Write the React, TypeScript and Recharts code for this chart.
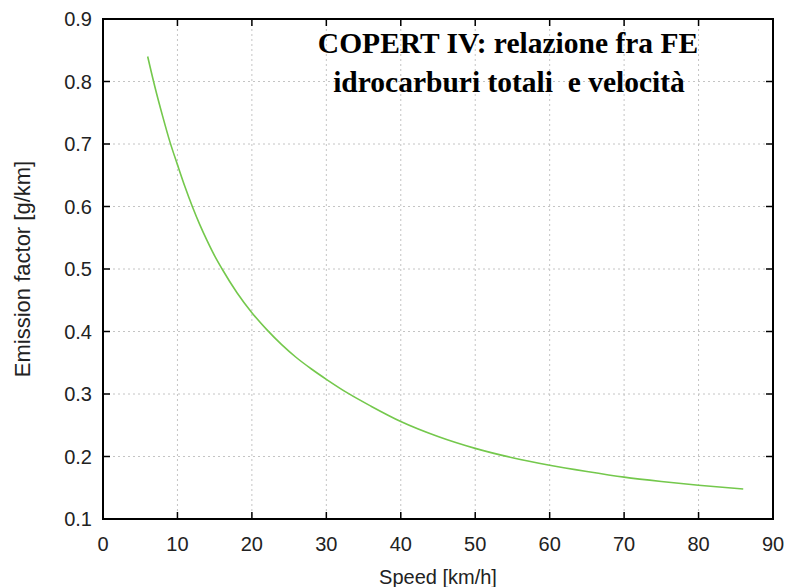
import React from 'react';
import { LineChart, Line, XAxis, YAxis, CartesianGrid, Label, ReferenceArea } from 'recharts';

const speeds = [6, 7, 8, 9, 10, 11, 12, 13, 14, 15, 16, 18, 20, 22, 24, 26, 28, 30, 33, 36, 40, 45, 50, 55, 60, 65, 70, 75, 80, 86];
const emissions = [0.84, 0.79, 0.745, 0.703, 0.667, 0.632, 0.6, 0.571, 0.545, 0.521, 0.5, 0.462, 0.43, 0.403, 0.379, 0.358, 0.34, 0.3235, 0.3005, 0.2805, 0.256, 0.232, 0.213, 0.198, 0.186, 0.176, 0.167, 0.16, 0.154, 0.148];
const xTicks = [0, 10, 20, 30, 40, 50, 60, 70, 80, 90];
const yTicks = [0.1, 0.2, 0.3, 0.4, 0.5, 0.6, 0.7, 0.8, 0.9];
const titleLines = ['COPERT IV: relazione fra FE', 'idrocarburi totali  e velocità'];

const data = speeds.map((s, i) => ({ speed: s, fe: emissions[i] }));

const sans = '"Liberation Sans", Arial, sans-serif';
const serif = '"Liberation Serif", "Times New Roman", serif';

// plot box edges (from chart size and margins)
const W = 790;
const H = 587;
const M = { top: 19, right: 17, bottom: 0, left: 0 };
const Y_AXIS_W = 103;
const X_AXIS_H = 68;
const LEFT = M.left + Y_AXIS_W;
const RIGHT = W - M.right;
const TOP = M.top;
const BOTTOM = H - M.bottom - X_AXIS_H;
const TICK = 7;
const X_MARGIN = 18;
const Y_MARGIN = 11;

const XTick = (props: any) => {
  const { x, payload } = props;
  return (
    <g>
      <line x1={x} y1={BOTTOM} x2={x} y2={BOTTOM - TICK} stroke="#000" strokeWidth={1.5} />
      <line x1={x} y1={TOP} x2={x} y2={TOP + TICK} stroke="#000" strokeWidth={1.5} />
      <text x={x} y={BOTTOM + X_MARGIN} dy="0.71em" textAnchor="middle" fill="#222" fontSize={20} fontFamily={sans}>
        {payload.value}
      </text>
    </g>
  );
};

const YTick = (props: any) => {
  const { y, payload } = props;
  return (
    <g>
      <line x1={LEFT} y1={y} x2={LEFT + TICK} y2={y} stroke="#000" strokeWidth={1.5} />
      <line x1={RIGHT} y1={y} x2={RIGHT - TICK} y2={y} stroke="#000" strokeWidth={1.5} />
      <text x={LEFT - Y_MARGIN} y={y} dy="0.355em" textAnchor="end" fill="#222" fontSize={20} fontFamily={sans}>
        {payload.value}
      </text>
    </g>
  );
};

export default function App() {
  return (
    <div style={{ position: 'absolute', left: 0, top: 0, width: W, height: H, background: '#fff' }}>
      <LineChart width={W} height={H} data={data} margin={M}>
        <CartesianGrid stroke="#c4c4c4" strokeDasharray="2 3" />
        <XAxis
          dataKey="speed"
          type="number"
          domain={[0, 90]}
          ticks={xTicks}
          height={X_AXIS_H}
          axisLine={false}
          tickLine={false}
          tick={<XTick />}
          interval={0}
        >
          <Label value="Speed [km/h]" position="insideBottom" offset={3} style={{ fill: '#222', fontSize: 20, fontFamily: sans }} />
        </XAxis>
        <YAxis
          type="number"
          domain={[0.1, 0.9]}
          ticks={yTicks}
          width={Y_AXIS_W}
          axisLine={false}
          tickLine={false}
          tick={<YTick />}
          interval={0}
        >
          <Label value="Emission factor [g/km]" angle={-90} position="center" dx={-29} style={{ fill: '#222', fontSize: 22, fontFamily: sans, textAnchor: 'middle' }} />
        </YAxis>
        <ReferenceArea x1={0} x2={90} y1={0.1} y2={0.9} fill="none" stroke="#000" strokeWidth={2} ifOverflow="visible" />
        <Line
          type="monotone"
          dataKey="fe"
          stroke="#74c84c"
          strokeWidth={1.6}
          dot={false}
          isAnimationActive={false}
        />
        <text x={508} y={53} textAnchor="middle" style={{ fontFamily: serif, fontWeight: 'bold', fontSize: 29.5, fill: '#000', whiteSpace: 'pre' }}>
          {titleLines[0]}
        </text>
        <text x={509} y={92} textAnchor="middle" style={{ fontFamily: serif, fontWeight: 'bold', fontSize: 29.5, fill: '#000', whiteSpace: 'pre' }}>
          {titleLines[1]}
        </text>
      </LineChart>
    </div>
  );
}
